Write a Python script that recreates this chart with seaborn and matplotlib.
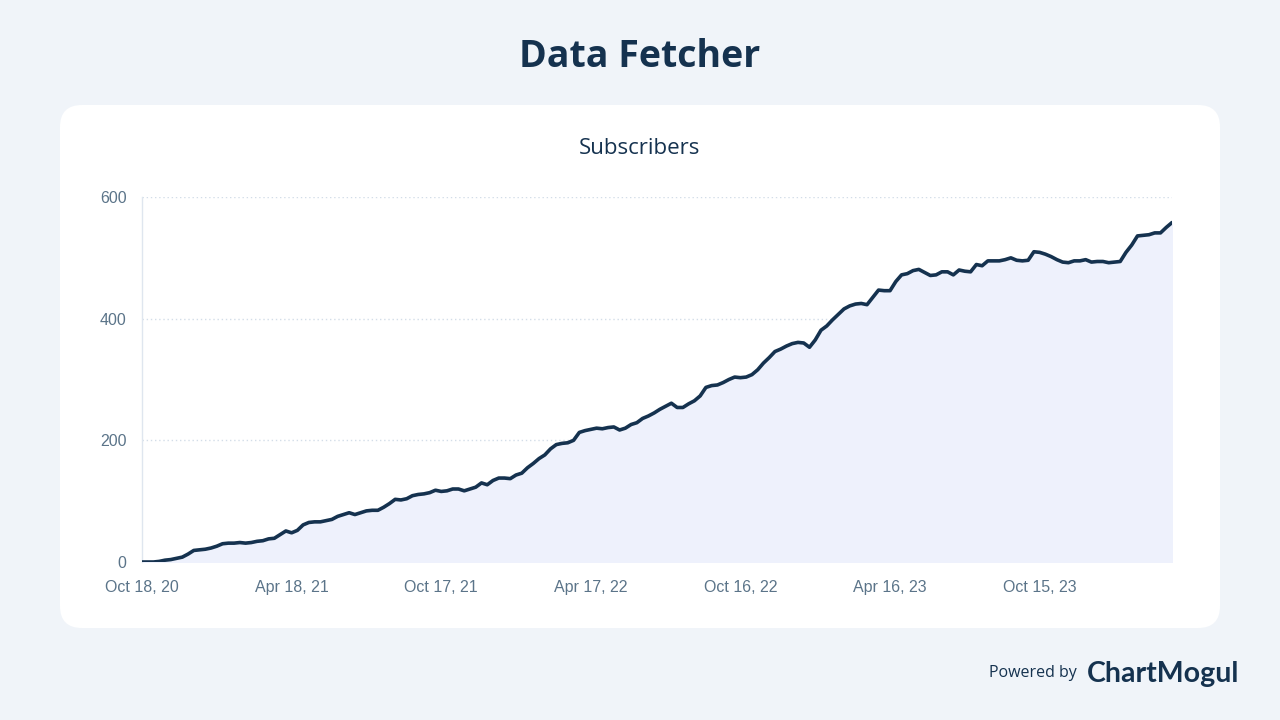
import numpy as np
import pandas as pd
import seaborn as sns
import matplotlib.pyplot as plt
import matplotlib.dates as mdates
from matplotlib.patches import FancyBboxPatch

# weekly subscriber counts, starting Oct 18 2020
start_date = "2020-10-18"
subscribers = [
    0, 0, 0, 1, 3, 4, 6, 8, 13, 19, 20, 21, 23, 26, 30, 31, 31, 32, 31, 32,
    34, 35, 38, 39, 45, 51, 48, 52, 61, 65, 66, 66, 68, 70, 75, 78, 81, 78, 81, 84,
    85, 85, 90, 96, 103, 102, 104, 109, 111, 112, 114, 118, 116, 117, 120, 120, 117, 120, 123, 130,
    127, 134, 138, 138, 137, 143, 146, 155, 162, 170, 176, 186, 193, 195, 196, 200, 213, 216, 218, 220,
    219, 221, 222, 217, 220, 226, 229, 236, 240, 245, 251, 256, 261, 254, 254, 260, 265, 273, 287, 290,
    291, 295, 300, 304, 303, 304, 308, 316, 327, 336, 346, 350, 355, 359, 361, 360, 353, 365, 381, 388,
    398, 407, 416, 421, 424, 425, 423, 435, 447, 446, 446, 461, 472, 474, 479, 481, 476, 471, 472, 477,
    477, 472, 480, 478, 477, 489, 487, 495, 495, 495, 497, 500, 496, 495, 496, 510, 509, 506, 502, 497,
    493, 492, 495, 495, 497, 493, 494, 494, 492, 493, 494, 509, 521, 536, 537, 538, 541, 541, 550, 558,
]
tick_dates = ["2020-10-18", "2021-04-18", "2021-10-17", "2022-04-17",
              "2022-10-16", "2023-04-16", "2023-10-15"]
y_ticks = [0, 200, 400, 600]

df = pd.DataFrame({
    "date": pd.date_range(start_date, periods=len(subscribers), freq="7D"),
    "subscribers": subscribers,
})

navy = "#15324f"
tick_col = "#5b7489"
bg = "#f0f4f9"

sns.set_style("white")
plt.rcParams["font.family"] = ["Liberation Sans", "DejaVu Sans"]

fig = plt.figure(figsize=(12.8, 7.2), dpi=100)
fig.patch.set_facecolor(bg)

# white rounded card (pixel coords)
card = FancyBboxPatch((60, 92), 1160, 523, boxstyle="round,pad=0,rounding_size=22",
                      transform=None, facecolor="white", edgecolor="none", zorder=0)
fig.add_artist(card)

ax = fig.add_axes([142 / 1280, 1 - 562 / 720, 1030 / 1280, 365 / 720])
ax.set_facecolor("none")

ax.fill_between(df["date"], df["subscribers"], color="#eef1fc", zorder=1)
sns.lineplot(data=df, x="date", y="subscribers", ax=ax, color=navy, linewidth=2.6, zorder=3)

ax.set_xlim(df["date"].iloc[0], df["date"].iloc[-1])
ax.set_ylim(0, 600)
ax.set_yticks(y_ticks)
ax.set_xticks(pd.to_datetime(tick_dates))
ax.xaxis.set_major_formatter(mdates.DateFormatter("%b %d, %y"))
ax.grid(axis="y", color="#d3dde8", linestyle=(0, (1, 2)), linewidth=1)
ax.set_axisbelow(True)
ax.set_xlabel("")
ax.set_ylabel("")
for s in ["top", "right", "bottom"]:
    ax.spines[s].set_visible(False)
ax.spines["left"].set_color("#dfe6ef")
ax.spines["left"].set_linewidth(1)
ax.tick_params(axis="both", length=0, labelsize=11.5, labelcolor=tick_col)
ax.tick_params(axis="y", pad=11)
ax.tick_params(axis="x", pad=13)

fig.text(0.5, 1 - 57 / 720, "Data Fetcher", ha="center", va="center",
         fontsize=27, fontweight="bold", color=navy, family="Open Sans")
fig.text(0.5, 1 - 148 / 720, "Subscribers", ha="center", va="center",
         fontsize=16, color=navy, family="Open Sans")
fig.text(1077 / 1280, 1 - 673 / 720, "Powered by", ha="right", va="center",
         fontsize=11.5, color=navy, family="Open Sans")
fig.text(1087 / 1280, 1 - 674 / 720, "ChartMogul", ha="left", va="center",
         fontsize=20.5, fontweight="bold", color=navy, family="Lato")

fig.savefig("out.png", dpi=100, facecolor=bg)
